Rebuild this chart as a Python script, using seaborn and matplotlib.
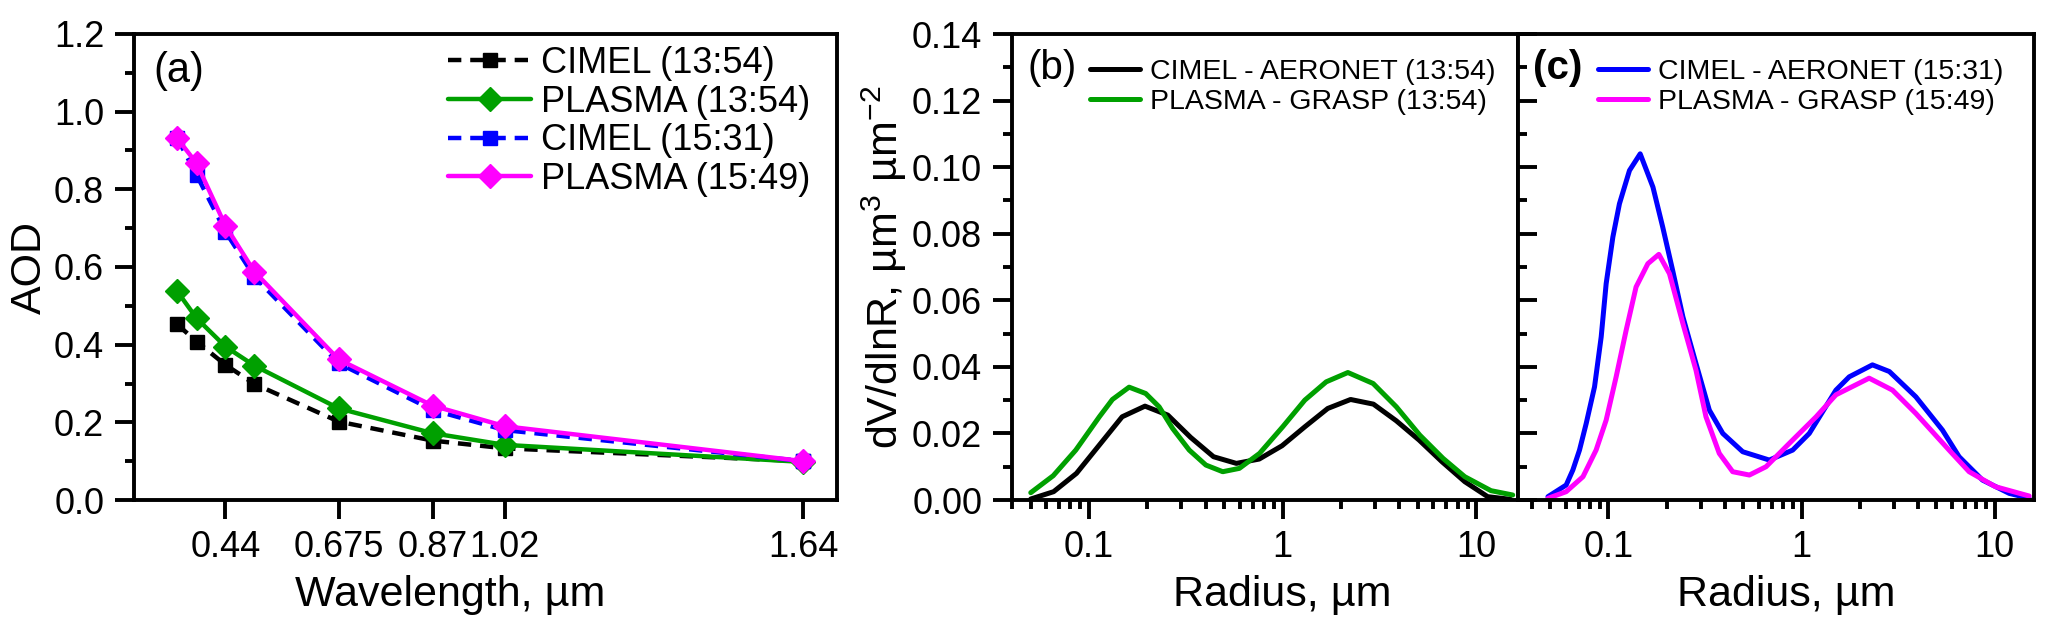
import matplotlib
matplotlib.use("Agg")
import matplotlib.pyplot as plt
from matplotlib.ticker import MultipleLocator, FixedLocator, LogLocator, NullFormatter, FormatStrFormatter
import seaborn as sns

# ---- data ----
# (a) spectral AOD
wavelength = [0.34, 0.38, 0.44, 0.50, 0.675, 0.87, 1.02, 1.64]
aod_cimel_1354 = [0.452, 0.408, 0.348, 0.299, 0.202, 0.153, 0.133, 0.100]
aod_plasma_1354 = [0.537, 0.468, 0.395, 0.346, 0.236, 0.172, 0.142, 0.098]
aod_cimel_1531 = [0.931, 0.837, 0.691, 0.575, 0.352, 0.232, 0.180, 0.100]
aod_plasma_1549 = [0.931, 0.867, 0.706, 0.588, 0.362, 0.243, 0.190, 0.100]
wl_ticks = [0.44, 0.675, 0.87, 1.02, 1.64]
wl_labels = ["0.44", "0.675", "0.87", "1.02", "1.64"]

# (b) size distributions at 13:54
r_aeronet = [0.05, 0.065604, 0.086077, 0.112939, 0.148184, 0.194429, 0.255105,
             0.334716, 0.439173, 0.576227, 0.756052, 0.991996, 1.301571, 1.707757,
             2.240702, 2.939966, 3.857452, 5.06126, 6.640745, 8.713145, 11.432287, 15.0]
dv_aeronet_1354 = [0.0003, 0.0025, 0.008, 0.0165, 0.025, 0.0282, 0.0255, 0.0188,
                   0.013, 0.011, 0.0123, 0.0163, 0.022, 0.0275, 0.0302, 0.0288,
                   0.0238, 0.018, 0.0115, 0.0055, 0.001, 0.0002]
r_grasp_1354 = [0.05, 0.0653, 0.0854, 0.113, 0.132, 0.161, 0.196, 0.230, 0.270,
                0.329, 0.401, 0.49, 0.597, 0.759, 1.0, 1.30, 1.677, 2.17, 2.93,
                3.86, 5.10, 6.73, 8.71, 11.9, 15.4]
dv_grasp_1354 = [0.0022, 0.0073, 0.015, 0.025, 0.0302, 0.0339, 0.032, 0.028, 0.0215,
                 0.015, 0.0105, 0.0085, 0.0095, 0.014, 0.022, 0.030, 0.0355, 0.0383,
                 0.035, 0.028, 0.0195, 0.0125, 0.007, 0.0028, 0.0015]

# (c) size distributions in the afternoon
r_aeronet_1531 = [0.0486, 0.0604, 0.0654, 0.0708, 0.0767, 0.0847, 0.0917, 0.0973,
                  0.1054, 0.114, 0.1285, 0.146, 0.170, 0.191, 0.215, 0.243, 0.284,
                  0.333, 0.391, 0.496, 0.681, 0.90, 1.097, 1.507, 1.766, 2.33, 2.85,
                  3.91, 5.37, 6.55, 8.65, 11.9, 15.1]
dv_aeronet_1531 = [0.001, 0.0045, 0.009, 0.015, 0.023, 0.034, 0.049, 0.065, 0.079,
                   0.089, 0.099, 0.104, 0.094, 0.082, 0.069, 0.055, 0.041, 0.027,
                   0.020, 0.0145, 0.012, 0.015, 0.020, 0.033, 0.037, 0.0406, 0.0386,
                   0.031, 0.021, 0.013, 0.006, 0.002, 0.0005]
r_grasp_1549 = [0.0486, 0.0604, 0.0738, 0.0863, 0.0973, 0.1096, 0.1235, 0.139, 0.16,
                0.1824, 0.207, 0.243, 0.284, 0.320, 0.375, 0.44, 0.537, 0.655, 0.864,
                1.19, 1.507, 2.24, 2.96, 3.91, 5.81, 7.38, 10.1, 15.1]
dv_grasp_1549 = [0.0005, 0.0025, 0.007, 0.015, 0.024, 0.037, 0.051, 0.064, 0.071,
                 0.0738, 0.068, 0.053, 0.039, 0.025, 0.014, 0.0085, 0.0075, 0.010,
                 0.017, 0.025, 0.0316, 0.0366, 0.033, 0.026, 0.015, 0.0085, 0.004,
                 0.0012]

GREEN = "#00A000"

sns.set_style("ticks")
plt.rcParams["font.family"] = ["Liberation Sans", "DejaVu Sans"]
plt.rcParams["mathtext.default"] = "regular"
plt.rcParams["axes.unicode_minus"] = False
plt.rcParams["axes.linewidth"] = 2.8
plt.rcParams["axes.edgecolor"] = "black"
plt.rcParams["text.color"] = "black"
plt.rcParams["axes.labelcolor"] = "black"

fig = plt.figure(figsize=(20.67, 6.24), dpi=100)
ax_a = fig.add_axes([134 / 2067, 1 - 500 / 624, 703 / 2067, 466 / 624])
ax_b = fig.add_axes([1012 / 2067, 1 - 500 / 624, 506 / 2067, 466 / 624])
ax_c = fig.add_axes([1518 / 2067, 1 - 500 / 624, 516 / 2067, 466 / 624])

TICK = 26
LABEL = 31


def style_ticks(ax):
    ax.tick_params(which="major", length=13.5, width=2.8, labelsize=TICK, pad=8,
                   color="black", labelcolor="black")
    ax.tick_params(which="minor", length=6.5, width=2.8, color="black")


# ---- (a) ----
series_a = [
    (aod_cimel_1354, "black", "s", 10.5, True, "CIMEL (13:54)"),
    (aod_plasma_1354, GREEN, "D", 12, False, "PLASMA (13:54)"),
    (aod_cimel_1531, "blue", "s", 10.5, True, "CIMEL (15:31)"),
    (aod_plasma_1549, "magenta", "D", 12, False, "PLASMA (15:49)"),
]
handles = []
for vals, col, mk, ms, dashed, lab in series_a:
    sns.lineplot(x=wavelength, y=vals, ax=ax_a, color=col, marker=mk,
                 markersize=ms, markeredgecolor=col, markeredgewidth=1,
                 linewidth=3.2, sort=False, estimator=None, label=lab)
    line = ax_a.lines[-1]
    if dashed:
        line.set_dashes([3, 2])
    handles.append(line)

ax_a.set_xlim(0.25, 1.71)
ax_a.set_ylim(0, 1.2)
ax_a.xaxis.set_major_locator(FixedLocator(wl_ticks))
ax_a.set_xticklabels(wl_labels)
ax_a.yaxis.set_major_locator(MultipleLocator(0.2))
ax_a.yaxis.set_minor_locator(MultipleLocator(0.1))
ax_a.yaxis.set_major_formatter(FormatStrFormatter("%.1f"))
style_ticks(ax_a)
ax_a.set_xlabel("Wavelength, µm", fontsize=LABEL)
ax_a.xaxis.set_label_coords(0.45, -0.16)
ax_a.set_ylabel("AOD", fontsize=LABEL, labelpad=3)
ax_a.legend(handles=handles, labels=[s[-1] for s in series_a], loc="upper left",
            bbox_to_anchor=(0.4467, 0.974), borderaxespad=0, borderpad=0,
            frameon=False, fontsize=26, handlelength=2.3, handletextpad=0.27,
            labelspacing=0.1)
ax_a.text(0.028, 0.92, "(a)", transform=ax_a.transAxes, fontsize=30,
          va="center", ha="left")

# ---- (b) and (c) ----
def size_panel(ax, curves, xlim, tag, bold):
    hs = []
    for r, v, col, lab in curves:
        sns.lineplot(x=r, y=v, ax=ax, color=col, linewidth=3.6, sort=False,
                     estimator=None, label=lab)
        hs.append(ax.lines[-1])
    ax.set_xscale("log")
    ax.set_xlim(*xlim)
    ax.set_ylim(0, 0.14)
    ax.xaxis.set_major_locator(FixedLocator([0.1, 1, 10]))
    ax.set_xticklabels(["0.1", "1", "10"])
    ax.xaxis.set_minor_locator(LogLocator(base=10, subs=range(2, 10), numticks=20))
    ax.xaxis.set_minor_formatter(NullFormatter())
    ax.yaxis.set_major_locator(MultipleLocator(0.02))
    ax.yaxis.set_minor_locator(MultipleLocator(0.01))
    ax.yaxis.set_major_formatter(FormatStrFormatter("%.2f"))
    style_ticks(ax)
    ax.set_xlabel("Radius, µm", fontsize=LABEL)
    ax.legend(handles=hs, labels=[c[-1] for c in curves], loc="upper left",
              bbox_to_anchor=(0.155, 0.946), borderaxespad=0, borderpad=0,
              frameon=False, fontsize=20.5, handlelength=1.75,
              handletextpad=0.35, labelspacing=0.14)
    ax.text(0.03, 0.927, tag, transform=ax.transAxes, fontsize=29,
            va="center", ha="left", fontweight="bold" if bold else "normal")


size_panel(ax_b, [(r_aeronet, dv_aeronet_1354, "black", "CIMEL - AERONET (13:54)"),
                  (r_grasp_1354, dv_grasp_1354, GREEN, "PLASMA - GRASP (13:54)")],
           (0.04, 16.4), "(b)", False)
ax_b.xaxis.set_label_coords(0.535, -0.16)
ax_b.set_ylabel("dV/dlnR, µm$^3$ µm$^{-2}$", fontsize=LABEL, labelpad=2)

size_panel(ax_c, [(r_aeronet_1531, dv_aeronet_1531, "blue", "CIMEL - AERONET (15:31)"),
                  (r_grasp_1549, dv_grasp_1549, "magenta", "PLASMA - GRASP (15:49)")],
           (0.034, 16.0), "(c)", True)
ax_c.xaxis.set_label_coords(0.52, -0.16)
ax_c.tick_params(axis="y", which="both", direction="in", labelleft=False)
ax_c.set_ylabel("")

fig.savefig("out.png", dpi=100)
